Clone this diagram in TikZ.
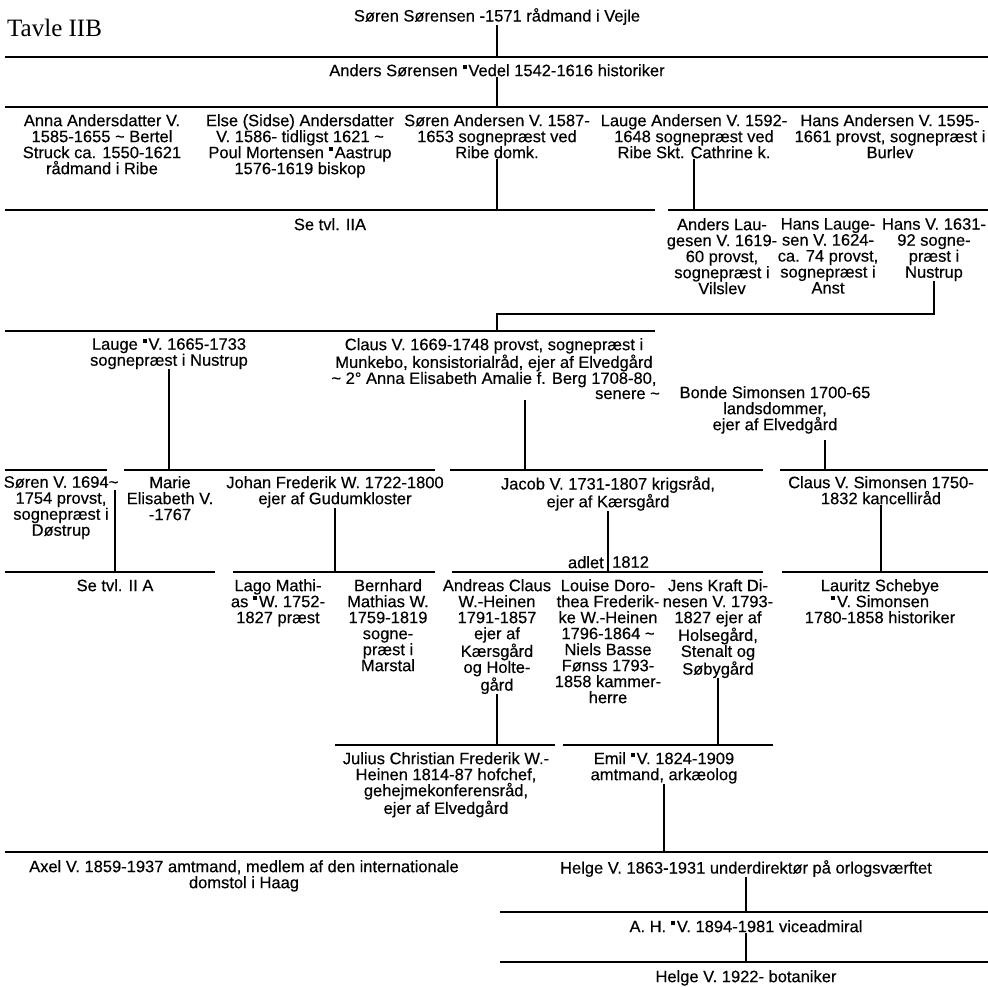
\documentclass[tikz,border=0pt]{standalone}
\usepackage{fontspec}
\setmainfont{Liberation Sans}
\newfontfamily\medfont{Liberation Sans}[FakeBold=0.35]
\newfontfamily\titlefont{Liberation Serif}
\newcommand\sqm{\kern0.03em\rule[0.42em]{0.24em}{0.24em}\kern0.1em}
\newcommand\tld{\textasciitilde}
\begin{document}
\begin{tikzpicture}[x=1pt,y=-1pt,
  person/.style={align=center,inner sep=0pt,anchor=north,font=\medfont\fontsize{16.5}{16}\selectfont},
  label/.style={inner sep=0pt,font=\medfont\fontsize{16.5}{16}\selectfont},
  hline/.style={line width=1.6pt},
  vline/.style={line width=1.2pt}]
\useasboundingbox (0,0) rectangle (988,986);

\node[anchor=west,inner sep=0pt,font=\titlefont\fontsize{25}{25}\selectfont] (tavle) at (7,28) {Tavle IIB};

% ---- horizontal lines (coordinates)
\coordinate (l1w) at (5,57);   \coordinate (l1e) at (988,57);
\coordinate (l2w) at (5,107);  \coordinate (l2e) at (988,107);
\coordinate (l3aw) at (5,210); \coordinate (l3ae) at (655,210);
\coordinate (l3bw) at (668,210); \coordinate (l3be) at (988,210);
\coordinate (elbow) at (497,314);
\coordinate (l4w) at (5,331);  \coordinate (l4e) at (655,331);
\coordinate (l5aw) at (5,470); \coordinate (l5ae) at (107,470);
\coordinate (l5bw) at (124,470); \coordinate (l5be) at (435,470);
\coordinate (l5cw) at (450,470); \coordinate (l5ce) at (763,470);
\coordinate (l5dw) at (780,470); \coordinate (l5de) at (988,470);
\coordinate (l7aw) at (5,572); \coordinate (l7ae) at (215,572);
\coordinate (l7bw) at (233,572); \coordinate (l7be) at (435,572);
\coordinate (l7cw) at (452,572); \coordinate (l7ce) at (763,572);
\coordinate (l7dw) at (782,572); \coordinate (l7de) at (988,572);
\coordinate (l8aw) at (335,745); \coordinate (l8ae) at (555,745);
\coordinate (l8bw) at (563,745); \coordinate (l8be) at (773,745);
\coordinate (l9w) at (5,852);  \coordinate (l9e) at (988,852);
\coordinate (l10w) at (500,912); \coordinate (l10e) at (988,912);
\coordinate (l11w) at (500,962); \coordinate (l11e) at (988,962);

\foreach \a/\b in {l1w/l1e,l2w/l2e,l3aw/l3ae,l3bw/l3be,l4w/l4e,l5aw/l5ae,l5bw/l5be,l5cw/l5ce,l5dw/l5de,l7aw/l7ae,l7bw/l7be,l7cw/l7ce,l7dw/l7de,l8aw/l8ae,l8bw/l8be,l9w/l9e,l10w/l10e,l11w/l11e}
  \draw[hline] (\a) -- (\b);

% ---- generation 1-2
\node[person] (soren0) at (497,8) {Søren Sørensen -1571 rådmand i Vejle};
\node[person] (anders) at (497,64) {Anders Sørensen \sqm Vedel 1542-1616 historiker};

% ---- generation 3
\node[person] (anna) at (102,114) {Anna Andersdatter V.\\1585-1655 \tld{} Bertel\\Struck ca. 1550-1621\\rådmand i Ribe};
\node[person] (else) at (300,114) {Else (Sidse) Andersdatter\\V. 1586- tidligst 1621 \tld\\Poul Mortensen \sqm Aastrup\\1576-1619 biskop};
\node[person] (sorenA) at (497,114) {Søren Andersen V. 1587-\\1653 sognepræst ved\\Ribe domk.};
\node[person] (laugeA) at (694,114) {Lauge Andersen V. 1592-\\1648 sognepræst ved\\Ribe Skt. Cathrine k.};
\node[person] (hansA) at (890,114) {Hans Andersen V. 1595-\\1661 provst, sognepræst i\\Burlev};

\node[label,anchor=north] (se1) at (330,218) {Se tvl. IIA};

% ---- generation 4
\node[person] (andersL) at (722,218) {Anders Lau-\\gesen V. 1619-\\60 provst,\\sognepræst i\\Vilslev};
\node[person] (hansL) at (828,218) {Hans Lauge-\\sen V. 1624-\\ca. 74 provst,\\sognepræst i\\Anst};
\node[person] (hansV) at (934,218) {Hans V. 1631-\\92 sogne-\\præst i\\Nustrup};

% ---- generation 5
\node[person] (laugeV) at (169,338) {Lauge \sqm V. 1665-1733\\sognepræst i Nustrup};
\node[person] (claus) at (494,338) {Claus V. 1669-1748 provst, sognepræst i\\Munkebo, konsistorialråd, ejer af Elvedgård\\\tld{} 2° Anna Elisabeth Amalie f. Berg 1708-80,};
\node[label,anchor=base east] (senere) at (660,399) {senere \tld};
\node[person] (bonde) at (775,386) {Bonde Simonsen 1700-65\\landsdommer,\\ejer af Elvedgård};

% ---- generation 6
\node[person] (sorenV) at (61,476) {Søren V. 1694\tld\\1754 provst,\\sognepræst i\\Døstrup};
\node[person] (marie) at (170,476) {Marie\\Elisabeth V.\\-1767};
\node[person] (johan) at (335,476) {Johan Frederik W. 1722-1800\\ejer af Gudumkloster};
\node[person] (jacob) at (608,476) {Jacob V. 1731-1807 krigsråd,\\ejer af Kærsgård};
\node[person] (clausS) at (881,476) {Claus V. Simonsen 1750-\\1832 kancelliråd};

\node[label,anchor=north] (se2) at (115,579) {Se tvl. II A};
\node[label,anchor=north east] (adlet) at (604,556) {adlet};
\node[label,anchor=north west] (y1812) at (612,556) {1812};

% ---- generation 7
\node[person] (lago) at (278,579) {Lago Mathi-\\as \sqm W. 1752-\\1827 præst};
\node[person] (bernhard) at (388,579) {Bernhard\\Mathias W.\\1759-1819\\sogne-\\præst i\\Marstal};
\node[person] (andreas) at (497,579) {Andreas Claus\\W.-Heinen\\1791-1857\\ejer af\\Kærsgård\\og Holte-\\gård};
\node[person] (louise) at (608,579) {Louise Doro-\\thea Frederik-\\ke W.-Heinen\\1796-1864 \tld\\Niels Basse\\Fønss 1793-\\1858 kammer-\\herre};
\node[person] (jens) at (718,579) {Jens Kraft Di-\\nesen V. 1793-\\1827 ejer af\\Holsegård,\\Stenalt og\\Søbygård};
\node[person] (lauritz) at (880,579) {Lauritz Schebye\\\sqm V. Simonsen\\1780-1858 historiker};

% ---- generation 8
\node[person] (julius) at (446,752) {Julius Christian Frederik W.-\\Heinen 1814-87 hofchef,\\gehejmekonferensråd,\\ejer af Elvedgård};
\node[person] (emil) at (664,752) {Emil \sqm V. 1824-1909\\amtmand, arkæolog};

% ---- generation 9-11
\node[person] (axel) at (244,860) {Axel V. 1859-1937 amtmand, medlem af den internationale\\domstol i Haag};
\node[person] (helge1) at (746,860) {Helge V. 1863-1931 underdirektør på orlogsværftet};
\node[person] (ah) at (746,920) {A. H. \sqm V. 1894-1981 viceadmiral};
\node[person] (helge2) at (746,970) {Helge V. 1922- botaniker};

% ---- vertical connectors
\draw[vline] (soren0.south) -- (soren0.south |- l1w);
\draw[vline] (anders.south) -- (anders.south |- l2w);
\draw[vline] (sorenA.south) -- (sorenA.south |- l3aw);
\draw[vline] (laugeA.south) -- (laugeA.south |- l3bw);
\draw[vline] (hansV.south) |- (elbow) -- (elbow |- l4w);
\draw[vline] (laugeV.south) -- (laugeV.south |- l5bw);
\coordinate (clausv) at (525,400);
\draw[vline] (clausv) -- (clausv |- l5cw);
\coordinate (bondev) at (825,440);
\draw[vline] (bondev) -- (bondev |- l5dw);
\coordinate (sorenVv) at (115,490);
\draw[vline] (sorenVv) -- (sorenVv |- l7aw);
\draw[vline] (johan.south) -- (johan.south |- l7bw);
\draw[vline] (jacob.south) -- (jacob.south |- l7cw);
\draw[vline] (clausS.south) -- (clausS.south |- l7dw);
\draw[vline] (andreas.south) -- (andreas.south |- l8aw);
\draw[vline] (jens.south) -- (jens.south |- l8bw);
\draw[vline] (emil.south) -- (emil.south |- l9w);
\draw[vline] (helge1.south) -- (helge1.south |- l10w);
\draw[vline] (ah.south) -- (ah.south |- l11w);
\end{tikzpicture}
\end{document}
